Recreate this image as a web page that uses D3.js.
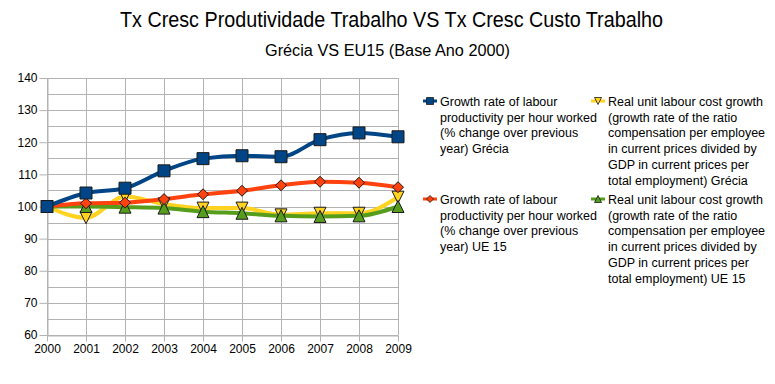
<!DOCTYPE html>
<html>
<head>
<meta charset="utf-8">
<script src="https://cdn.jsdelivr.net/npm/d3@7"></script>
<style>
  body { margin: 0; background: #fff; }
  text { font-family: "Liberation Sans", Arial, sans-serif; fill: #000; }
</style>
</head>
<body>
<div id="chart"></div>
<script>
var years = [2000, 2001, 2002, 2003, 2004, 2005, 2006, 2007, 2008, 2009];
var prodGrecia = [100, 104.2, 105.7, 111.1, 114.9, 115.8, 115.5, 120.8, 122.9, 121.7];
var prodUE15 = [100, 101.0, 101.2, 102.3, 103.8, 104.9, 106.6, 107.7, 107.4, 106.0];
var custoGrecia = [100, 96.5, 103.1, 100.8, 99.5, 99.5, 97.4, 97.9, 97.9, 102.9];
var custoUE15 = [100, 100, 99.8, 99.5, 98.4, 97.9, 97.1, 96.9, 97.1, 100];
var yTicks = [60, 70, 80, 90, 100, 110, 120, 130, 140];

var legendLabels = [
  ["Growth rate of labour", "productivity per hour worked", "(% change over previous", "year) Grécia"],
  ["Real unit labour cost growth", "(growth rate of the ratio", "compensation per employee", "in current prices divided by", "GDP in current prices per", "total employment) Grécia"],
  ["Growth rate of labour", "productivity per hour worked", "(% change over previous", "year) UE 15"],
  ["Real unit labour cost growth", "(growth rate of the ratio", "compensation per employee", "in current prices divided by", "GDP in current prices per", "total employment) UE 15"]
];

var series = [
  {values: prodGrecia, color: "#004586", shape: "square"},
  {values: custoGrecia, color: "#ffd320", shape: "down"},
  {values: prodUE15, color: "#ff420e", shape: "diamond"},
  {values: custoUE15, color: "#579d1c", shape: "up"}
];

var svg = d3.select("#chart").append("svg")
    .attr("width", 775)
    .attr("height", 384);

var margin = {top: 78, left: 47, right: 398, bottom: 335};

var x = d3.scaleLinear().domain([2000, 2009]).range([margin.left, margin.right]);
var y = d3.scaleLinear().domain([60, 140]).range([margin.bottom, margin.top]);

// titles
svg.append("text")
    .attr("x", 120).attr("y", 27)
    .attr("textLength", 543)
    .attr("lengthAdjust", "spacingAndGlyphs")
    .style("font-size", "22px")
    .text("Tx Cresc Produtividade Trabalho VS Tx Cresc Custo Trabalho");

svg.append("text")
    .attr("x", 265).attr("y", 56)
    .attr("textLength", 245)
    .attr("lengthAdjust", "spacingAndGlyphs")
    .style("font-size", "16px")
    .text("Grécia VS EU15 (Base Ano 2000)");

// grid
var grid = svg.append("g").attr("stroke", "#b3b3b3").attr("stroke-width", 1);
d3.range(60, 141, 5).forEach(function (v) {
  grid.append("line")
      .attr("x1", margin.left).attr("x2", margin.right)
      .attr("y1", Math.round(y(v)) + 0.5).attr("y2", Math.round(y(v)) + 0.5);
});
years.forEach(function (yr) {
  grid.append("line")
      .attr("x1", Math.round(x(yr)) + 0.5).attr("x2", Math.round(x(yr)) + 0.5)
      .attr("y1", margin.top).attr("y2", margin.bottom);
});

var yAxis = d3.axisLeft(y).tickValues(yTicks).tickSize(8).tickPadding(2).tickSizeOuter(0);
var xAxis = d3.axisBottom(x).tickValues(years).tickFormat(d3.format("d")).tickSize(6).tickPadding(3).tickSizeOuter(0);

var gY = svg.append("g").attr("transform", "translate(" + (margin.left + 0.5) + ",0)").call(yAxis);
var gX = svg.append("g").attr("transform", "translate(0," + (margin.bottom + 0.5) + ")").call(xAxis);
[gX, gY].forEach(function (g) {
  g.selectAll("path, line").attr("stroke", "#b3b3b3");
  g.selectAll("text").style("font-size", "12px").style("font-family", "'Liberation Sans', Arial, sans-serif");
});

function symbolPath(shape, s) {
  if (shape === "square") return "M" + (-s) + "," + (-s) + "H" + s + "V" + s + "H" + (-s) + "Z";
  if (shape === "diamond") return "M0," + (-s) + "L" + s + ",0L0," + s + "L" + (-s) + ",0Z";
  if (shape === "down") return "M" + (-s) + "," + (-s) + "H" + s + "L0," + s + "Z";
  return "M" + (-s) + "," + s + "H" + s + "L0," + (-s) + "Z";
}
var symbolSize = {square: 6, diamond: 5.5, down: 6, up: 6};

var line = d3.line()
    .x(function (d, i) { return x(years[i]); })
    .y(function (d) { return y(d); })
    .curve(d3.curveMonotoneX);

var drawOrder = [1, 3, 2, 0];
drawOrder.forEach(function (k) {
  var s = series[k];
  svg.append("path")
      .attr("d", line(s.values))
      .attr("fill", "none")
      .attr("stroke", s.color)
      .attr("stroke-width", 4);
});
drawOrder.forEach(function (k) {
  var s = series[k];
  svg.append("g").selectAll("path")
      .data(s.values)
      .enter().append("path")
      .attr("transform", function (d, i) { return "translate(" + x(years[i]) + "," + y(d) + ")"; })
      .attr("d", symbolPath(s.shape, symbolSize[s.shape]))
      .attr("fill", s.color)
      .attr("stroke", "#1a1a1a")
      .attr("stroke-width", 1);
});

// legend
var legendPos = [[423, 101], [591, 101], [423, 199], [591, 199]];
legendPos.forEach(function (p, i) {
  var s = series[i];
  var g = svg.append("g").attr("transform", "translate(" + p[0] + "," + p[1] + ")");
  g.append("line").attr("x1", 0).attr("x2", 14).attr("y1", 0).attr("y2", 0)
      .attr("stroke", s.color).attr("stroke-width", 3);
  g.append("path").attr("transform", "translate(7,0)")
      .attr("d", symbolPath(s.shape, 3.5))
      .attr("fill", s.color).attr("stroke", "#1a1a1a").attr("stroke-width", 0.8);
  var t = g.append("text").attr("x", 17).attr("y", 5).style("font-size", "12.5px");
  legendLabels[i].forEach(function (l, j) {
    t.append("tspan").attr("x", 17).attr("dy", j === 0 ? 0 : 15.7).text(l);
  });
});
</script>
</body>
</html>
